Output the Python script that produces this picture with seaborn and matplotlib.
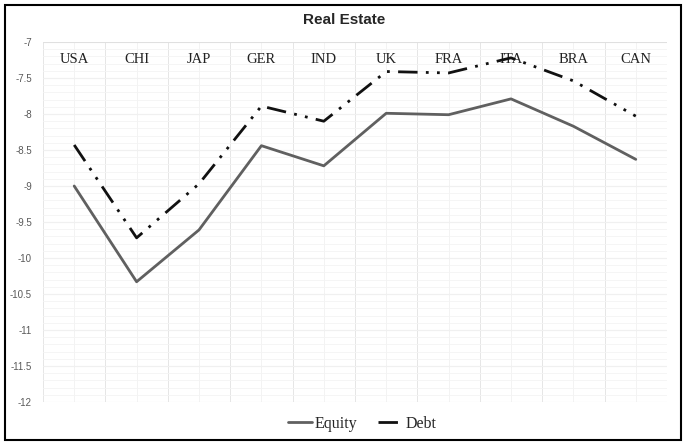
import numpy as np
import pandas as pd
import seaborn as sns
import matplotlib.pyplot as plt
from matplotlib.patches import Rectangle
from matplotlib.ticker import MultipleLocator, FixedLocator

countries = ['USA', 'CHI', 'JAP', 'GER', 'IND', 'UK', 'FRA', 'ITA', 'BRA', 'CAN']
equity = [-9.00, -10.33, -9.61, -8.44, -8.72, -7.99, -8.01, -7.79, -8.17, -8.63]
debt = [-8.43, -9.72, -8.97, -7.89, -8.10, -7.41, -7.43, -7.22, -7.54, -8.03]
yticks = np.arange(-12, -6.9, 0.5)

df = pd.DataFrame({
    'country': countries * 2,
    'value': equity + debt,
    'series': ['Equity'] * len(countries) + ['Debt'] * len(countries),
})

sns.set_style('white')
fig = plt.figure(figsize=(6.88, 4.46), dpi=100)
ax = fig.add_axes([43 / 688, 1 - 402 / 446, 624 / 688, 360 / 446])

sns.lineplot(data=df, x='country', y='value', hue='series', style='series',
             palette={'Equity': '#606060', 'Debt': '#111111'},
             dashes={'Equity': '', 'Debt': (7, 3, 1, 3, 1, 3)},
             linewidth=2, sort=False, ax=ax, legend=False)

ax.set_xlim(-0.5, len(countries) - 0.5)
ax.set_ylim(-12, -7)
ax.set_xlabel('')
ax.set_ylabel('')

# gridlines like excel
ax.yaxis.set_major_locator(FixedLocator(yticks))
ax.set_yticklabels(['%g' % t for t in yticks])
ax.grid(False)
for x in np.arange(-0.5, len(countries), 1.0):
    ax.axvline(x, color='#e6e6e6', lw=0.7, zorder=0)
for x in np.arange(len(countries)):
    ax.axvline(x, color='#f3f3f3', lw=0.7, zorder=0)
for y in yticks:
    ax.axhline(y, color='#e0e0e0', lw=0.8, zorder=0)
for y in np.arange(-12, -7, 0.1):
    ax.axhline(y, color='#f4f4f4', lw=0.6, zorder=0)

ax.xaxis.tick_top()
ax.set_xticks(range(len(countries)))
ax.set_xticklabels(countries, family='Liberation Serif', fontsize=10.5, color='#222222')
ax.tick_params(axis='x', length=0, pad=-17)
ax.tick_params(axis='y', length=0, pad=8, labelsize=7, labelcolor='#595959')
for lab in ax.get_yticklabels():
    lab.set_family('Liberation Sans')
for s in ax.spines.values():
    s.set_visible(False)

fig.text(0.5, 1 - 20 / 446, 'Real Estate', ha='center', va='center',
         fontsize=11, fontweight='bold', family='Liberation Sans')

h1, = ax.plot([], [], color='#606060', lw=2)
h2, = ax.plot([], [], color='#111111', lw=2, dashes=(7, 3, 1, 3))
fig.legend([h1, h2], ['Equity', 'Debt'], loc='center', bbox_to_anchor=(362 / 688, 1 - 424 / 446),
           ncol=2, frameon=False, prop={'family': 'Liberation Serif', 'size': 11.5},
           handlelength=1.5, handletextpad=0.2, columnspacing=1.3)

fig.patches.append(Rectangle((5 / 688, 1 - 440 / 446), 676 / 688, 435 / 446,
                             transform=fig.transFigure, fill=False,
                             edgecolor='black', lw=1.5))

fig.savefig('out.png', dpi=100)
